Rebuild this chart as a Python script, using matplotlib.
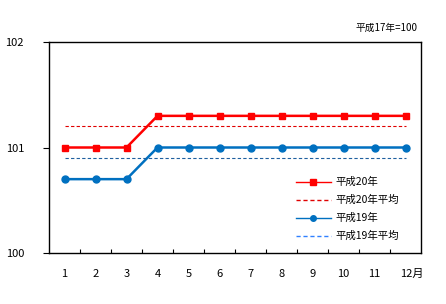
import matplotlib
matplotlib.use("Agg")
import matplotlib.pyplot as plt
import numpy as np

plt.rcParams["font.family"] = ["Noto Sans CJK JP", "DejaVu Sans"]

months = [1, 2, 3, 4, 5, 6, 7, 8, 9, 10, 11, 12]
month_labels = ["1", "2", "3", "4", "5", "6", "7", "8", "9", "10", "11", "12月"]
h20 = [101.0, 101.0, 101.0, 101.3, 101.3, 101.3, 101.3, 101.3, 101.3, 101.3, 101.3, 101.3]
h19 = [100.7, 100.7, 100.7, 101.0, 101.0, 101.0, 101.0, 101.0, 101.0, 101.0, 101.0, 101.0]
h20_avg = 101.2
h19_avg = 100.9


def main() -> None:
    fig = plt.figure(figsize=(4.46, 3.04), dpi=100)
    ax = fig.add_axes([49 / 446, 1 - 253 / 304, 372 / 446, 211 / 304])

    x = np.array(months)
    ax.plot(x, h20, color="#ff0000", lw=1.8, marker="s", ms=5, label="平成20年")
    ax.plot([x[0], x[-1]], [h20_avg] * 2, color="#e00000", lw=0.8,
            linestyle=(0, (3, 2)), label="平成20年平均")
    ax.plot(x, h19, color="#0070c0", lw=1.8, marker="o", ms=5, label="平成19年")
    ax.plot([x[0], x[-1]], [h19_avg] * 2, color="#1f5f9f", lw=0.8,
            linestyle=(0, (3, 2)), label="平成19年平均")

    ax.set_xlim(0.5, 12.5)
    ax.set_ylim(100, 102)
    ax.set_yticks([100, 101, 102])
    ax.set_yticklabels(["100", "101", "102"], fontsize=8)
    ax.tick_params(axis="y", direction="out", length=4, pad=14)
    ax.set_xticks(np.arange(1.5, 12, 1))
    ax.set_xticklabels([])
    ax.tick_params(axis="x", direction="in", length=3)
    for m, lab in zip(months, month_labels):
        if lab.endswith("月"):
            ax.text(m - 0.17, 99.8, lab, ha="left", va="center", fontsize=8)
        else:
            ax.text(m, 99.8, lab, ha="center", va="center", fontsize=8)

    for s in ax.spines.values():
        s.set_linewidth(1.0)

    fig.text(418 / 446, 1 - 28 / 304, "平成17年=100", ha="right", va="center", fontsize=7)

    leg = ax.legend(loc="upper left", bbox_to_anchor=(0.649, 0.385), frameon=False,
                    fontsize=7.5, handlelength=3.4, labelspacing=0.75, borderpad=0,
                    handletextpad=0.4, markerscale=0.8)
    for h in leg.get_lines():
        h.set_linewidth(1.0)
    leg.get_lines()[3].set_color("#3080ff")

    fig.savefig("out.png", dpi=100)
    plt.close(fig)


if __name__ == "__main__":
    main()
